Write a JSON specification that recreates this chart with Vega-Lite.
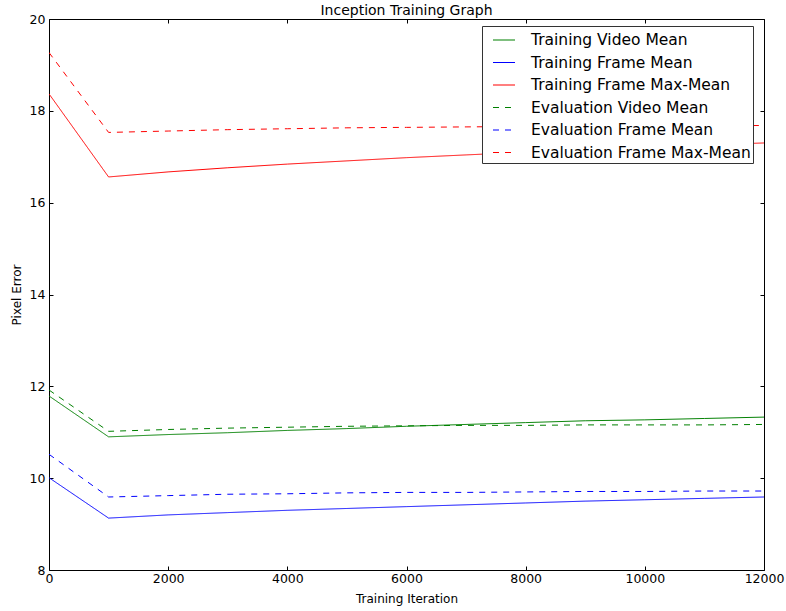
{
  "$schema": "https://vega.github.io/schema/vega-lite/v6.json",
  "width": 715,
  "height": 551,
  "autosize": {"type": "none"},
  "padding": {"left": 49, "top": 19, "right": 22, "bottom": 41},
  "background": "white",
  "title": {"text": "Inception Training Graph", "font": "DejaVu Sans", "fontSize": 14, "fontWeight": "normal", "color": "black", "anchor": "middle", "offset": -5},
  "config": {
    "view": {"stroke": "black", "strokeWidth": 1},
    "axis": {"domain": false, "grid": false, "tickColor": "black", "tickSize": -4, "labelFont": "DejaVu Sans", "labelFontSize": 12.5, "labelColor": "black", "titleFont": "DejaVu Sans", "titleFontSize": 12, "titleFontWeight": "normal", "titleColor": "black"}
  },
  "data": {"values": [
    {"iter": 0, "series": "Training Video Mean", "v": 11.79},
    {"iter": 1000, "series": "Training Video Mean", "v": 10.90},
    {"iter": 2000, "series": "Training Video Mean", "v": 10.95},
    {"iter": 3000, "series": "Training Video Mean", "v": 10.99},
    {"iter": 4000, "series": "Training Video Mean", "v": 11.04},
    {"iter": 5000, "series": "Training Video Mean", "v": 11.08},
    {"iter": 6000, "series": "Training Video Mean", "v": 11.13},
    {"iter": 7000, "series": "Training Video Mean", "v": 11.17},
    {"iter": 8000, "series": "Training Video Mean", "v": 11.21},
    {"iter": 9000, "series": "Training Video Mean", "v": 11.25},
    {"iter": 10000, "series": "Training Video Mean", "v": 11.27},
    {"iter": 11000, "series": "Training Video Mean", "v": 11.30},
    {"iter": 12000, "series": "Training Video Mean", "v": 11.33},
    {"iter": 0, "series": "Training Frame Mean", "v": 10.01},
    {"iter": 1000, "series": "Training Frame Mean", "v": 9.13},
    {"iter": 2000, "series": "Training Frame Mean", "v": 9.20},
    {"iter": 3000, "series": "Training Frame Mean", "v": 9.25},
    {"iter": 4000, "series": "Training Frame Mean", "v": 9.30},
    {"iter": 5000, "series": "Training Frame Mean", "v": 9.34},
    {"iter": 6000, "series": "Training Frame Mean", "v": 9.38},
    {"iter": 7000, "series": "Training Frame Mean", "v": 9.42},
    {"iter": 8000, "series": "Training Frame Mean", "v": 9.46},
    {"iter": 9000, "series": "Training Frame Mean", "v": 9.50},
    {"iter": 10000, "series": "Training Frame Mean", "v": 9.53},
    {"iter": 11000, "series": "Training Frame Mean", "v": 9.56},
    {"iter": 12000, "series": "Training Frame Mean", "v": 9.59},
    {"iter": 0, "series": "Training Frame Max-Mean", "v": 18.37},
    {"iter": 1000, "series": "Training Frame Max-Mean", "v": 16.56},
    {"iter": 2000, "series": "Training Frame Max-Mean", "v": 16.67},
    {"iter": 3000, "series": "Training Frame Max-Mean", "v": 16.76},
    {"iter": 4000, "series": "Training Frame Max-Mean", "v": 16.84},
    {"iter": 5000, "series": "Training Frame Max-Mean", "v": 16.91},
    {"iter": 6000, "series": "Training Frame Max-Mean", "v": 16.98},
    {"iter": 7000, "series": "Training Frame Max-Mean", "v": 17.04},
    {"iter": 8000, "series": "Training Frame Max-Mean", "v": 17.10},
    {"iter": 9000, "series": "Training Frame Max-Mean", "v": 17.16},
    {"iter": 10000, "series": "Training Frame Max-Mean", "v": 17.21},
    {"iter": 11000, "series": "Training Frame Max-Mean", "v": 17.26},
    {"iter": 12000, "series": "Training Frame Max-Mean", "v": 17.30},
    {"iter": 0, "series": "Evaluation Video Mean", "v": 11.92},
    {"iter": 1000, "series": "Evaluation Video Mean", "v": 11.02},
    {"iter": 2000, "series": "Evaluation Video Mean", "v": 11.06},
    {"iter": 3000, "series": "Evaluation Video Mean", "v": 11.09},
    {"iter": 4000, "series": "Evaluation Video Mean", "v": 11.11},
    {"iter": 5000, "series": "Evaluation Video Mean", "v": 11.13},
    {"iter": 6000, "series": "Evaluation Video Mean", "v": 11.14},
    {"iter": 7000, "series": "Evaluation Video Mean", "v": 11.15},
    {"iter": 8000, "series": "Evaluation Video Mean", "v": 11.15},
    {"iter": 9000, "series": "Evaluation Video Mean", "v": 11.16},
    {"iter": 10000, "series": "Evaluation Video Mean", "v": 11.16},
    {"iter": 11000, "series": "Evaluation Video Mean", "v": 11.16},
    {"iter": 12000, "series": "Evaluation Video Mean", "v": 11.17},
    {"iter": 0, "series": "Evaluation Frame Mean", "v": 10.52},
    {"iter": 1000, "series": "Evaluation Frame Mean", "v": 9.59},
    {"iter": 2000, "series": "Evaluation Frame Mean", "v": 9.62},
    {"iter": 3000, "series": "Evaluation Frame Mean", "v": 9.65},
    {"iter": 4000, "series": "Evaluation Frame Mean", "v": 9.66},
    {"iter": 5000, "series": "Evaluation Frame Mean", "v": 9.68},
    {"iter": 6000, "series": "Evaluation Frame Mean", "v": 9.69},
    {"iter": 7000, "series": "Evaluation Frame Mean", "v": 9.69},
    {"iter": 8000, "series": "Evaluation Frame Mean", "v": 9.70},
    {"iter": 9000, "series": "Evaluation Frame Mean", "v": 9.71},
    {"iter": 10000, "series": "Evaluation Frame Mean", "v": 9.71},
    {"iter": 11000, "series": "Evaluation Frame Mean", "v": 9.72},
    {"iter": 12000, "series": "Evaluation Frame Mean", "v": 9.72},
    {"iter": 0, "series": "Evaluation Frame Max-Mean", "v": 19.27},
    {"iter": 1000, "series": "Evaluation Frame Max-Mean", "v": 17.53},
    {"iter": 2000, "series": "Evaluation Frame Max-Mean", "v": 17.56},
    {"iter": 3000, "series": "Evaluation Frame Max-Mean", "v": 17.59},
    {"iter": 4000, "series": "Evaluation Frame Max-Mean", "v": 17.61},
    {"iter": 5000, "series": "Evaluation Frame Max-Mean", "v": 17.63},
    {"iter": 6000, "series": "Evaluation Frame Max-Mean", "v": 17.64},
    {"iter": 7000, "series": "Evaluation Frame Max-Mean", "v": 17.65},
    {"iter": 8000, "series": "Evaluation Frame Max-Mean", "v": 17.66},
    {"iter": 9000, "series": "Evaluation Frame Max-Mean", "v": 17.67},
    {"iter": 10000, "series": "Evaluation Frame Max-Mean", "v": 17.67},
    {"iter": 11000, "series": "Evaluation Frame Max-Mean", "v": 17.68},
    {"iter": 12000, "series": "Evaluation Frame Max-Mean", "v": 17.68}
  ]},
  "layer": [
    {
      "mark": {"type": "line", "strokeWidth": 1, "clip": true},
      "encoding": {
        "x": {"field": "iter", "type": "quantitative", "scale": {"domain": [0, 12000], "nice": false, "zero": false},
              "axis": {"orient": "bottom", "title": "Training Iteration", "values": [0, 2000, 4000, 6000, 8000, 10000, 12000], "format": "d", "labelPadding": 6, "titlePadding": 9, "labelFlush": false}},
        "y": {"field": "v", "type": "quantitative", "scale": {"domain": [8, 20], "nice": false, "zero": false},
              "axis": {"orient": "left", "title": "Pixel Error", "values": [8, 10, 12, 14, 16, 18, 20], "labelPadding": 8, "titlePadding": 6}},
        "color": {"field": "series", "type": "nominal",
          "scale": {"domain": ["Training Video Mean", "Training Frame Mean", "Training Frame Max-Mean", "Evaluation Video Mean", "Evaluation Frame Mean", "Evaluation Frame Max-Mean"],
                    "range": ["#008000", "#0000ff", "#ff0000", "#008000", "#0000ff", "#ff0000"]},
          "legend": {"title": null, "orient": "none", "legendX": 433, "legendY": 7, "symbolType": "stroke", "symbolSize": 484, "symbolStrokeWidth": 1.2, "symbolOffset": 8, "labelFont": "DejaVu Sans", "labelFontSize": 15.5, "labelColor": "black", "labelOffset": 15, "rowPadding": 1.5, "padding": 2, "strokeColor": "#333", "fillColor": "white", "labelLimit": 400}},
        "strokeDash": {"field": "series", "type": "nominal",
          "scale": {"domain": ["Training Video Mean", "Training Frame Mean", "Training Frame Max-Mean", "Evaluation Video Mean", "Evaluation Frame Mean", "Evaluation Frame Max-Mean"],
                    "range": [[1, 0], [1, 0], [1, 0], [6, 6], [6, 6], [6, 6]]},
          "legend": null}
      }
    },
    {
      "mark": {"type": "line", "opacity": 0},
      "encoding": {
        "x": {"field": "iter", "type": "quantitative", "axis": {"orient": "top", "title": null, "labels": false, "values": [0, 2000, 4000, 6000, 8000, 10000, 12000]}},
        "y": {"field": "v", "type": "quantitative", "axis": {"orient": "right", "title": null, "labels": false, "values": [8, 10, 12, 14, 16, 18, 20]}},
        "detail": {"field": "series"}
      }
    }
  ],
  "resolve": {"axis": {"x": "independent", "y": "independent"}}
}
